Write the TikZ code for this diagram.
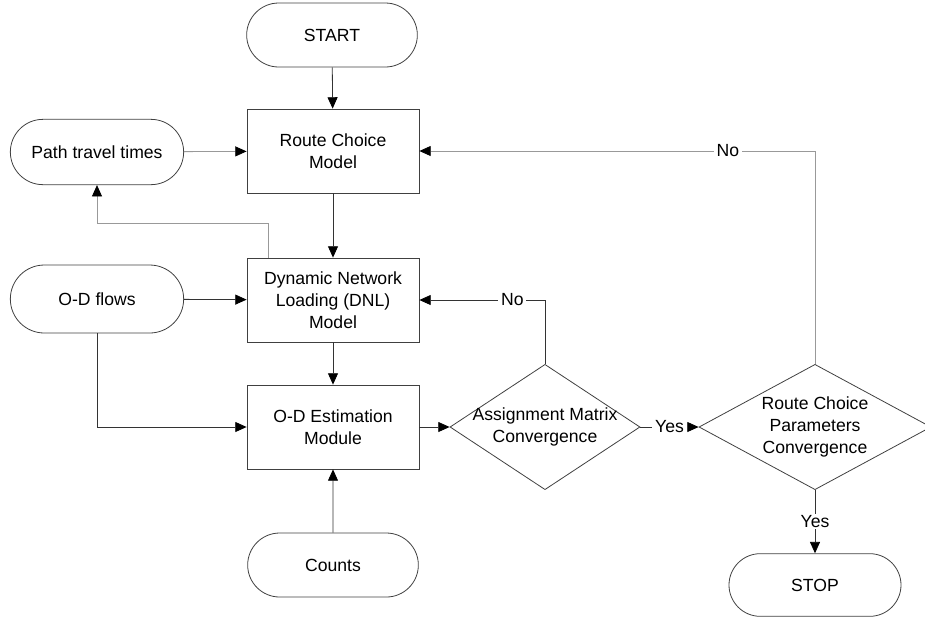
\documentclass[tikz,border=0pt]{standalone}
\usepackage{fontspec}
\setmainfont{Liberation Sans}
\usetikzlibrary{arrows.meta,shapes.misc,shapes.geometric}
\begin{document}
\begin{tikzpicture}[x=0.75pt,y=-0.75pt,
  font=\fontsize{13.2}{16.5}\selectfont,
  every node/.style={inner sep=0pt},
  term/.style={rounded rectangle, draw=black!75, line width=0.6pt, minimum width=128pt, minimum height=48pt},
  proc/.style={rectangle, draw=black!75, line width=0.6pt, minimum width=129pt, minimum height=63pt, align=center},
  dec/.style={diamond, draw=black!75, line width=0.6pt},
  txt/.style={align=center},
  conn/.style={draw=black!80, line width=0.6pt, -{Triangle[length=8.5pt,width=7.5pt,color=black]}},
  faint/.style={draw=black!40, line width=0.6pt, -{Triangle[length=8.5pt,width=7.5pt,color=black]}},
  lab/.style={fill=white, inner xsep=2pt, inner ysep=1pt}
]
\useasboundingbox (0,0) rectangle (925,619);

\node[term] (start) at (332,35) {START};
\node[proc] (rcm) at (333,151) {Route Choice\\Model};
\node[term, minimum width=130pt, minimum height=49pt] (ptt) at (97,152) {Path travel times};
\node[proc] (dnl) at (333,300) {Dynamic Network\\Loading (DNL)\\Model};
\node[term, minimum width=130pt, minimum height=51pt] (odf) at (97,299) {O-D flows};
\node[proc] (ode) at (333,427) {O-D Estimation\\Module};
\node[term] (cnt) at (333,565) {Counts};

\node[dec, minimum width=142.5pt, minimum height=94pt] (amc) at (545,427) {};
\node[txt] (amct) at (545,427) {Assignment Matrix\\Convergence};
\node[dec, minimum width=174pt, minimum height=94pt] (rcp) at (815,427) {};
\node[txt] (rcpt) at (815,427) {Route Choice\\Parameters\\Convergence};
\node[term, minimum width=129pt, minimum height=47pt] (stop) at (815,585) {STOP};

\draw[conn] (start) -- (rcm);
\draw[faint] (ptt) -- (rcm);
\draw[faint] ([xshift=16.5pt]dnl.north west) -- ++(0,-34) -| (ptt.south);
\draw[conn] (rcm) -- (dnl);
\draw[conn] (odf) -- (dnl);
\draw[conn] (odf.south) |- (ode.west);
\draw[conn] (dnl) -- (ode);
\draw[conn] (cnt) -- (ode);
\draw[conn] (ode) -- (amc);
\draw[conn] (amc.north) |- node[lab, pos=0.63] (no1) {No} (dnl.east);
\draw[conn] (amc.east) -- node[lab, pos=0.5] (yes1) {Yes} (rcp.west);
\draw[faint] (rcp.north) |- node[lab, pos=0.61, text=black] (no2) {No} (rcm.east);
\draw[conn] (rcp.south) -- node[lab, pos=0.5] (yes2) {Yes} (stop.north);
\end{tikzpicture}
\end{document}
